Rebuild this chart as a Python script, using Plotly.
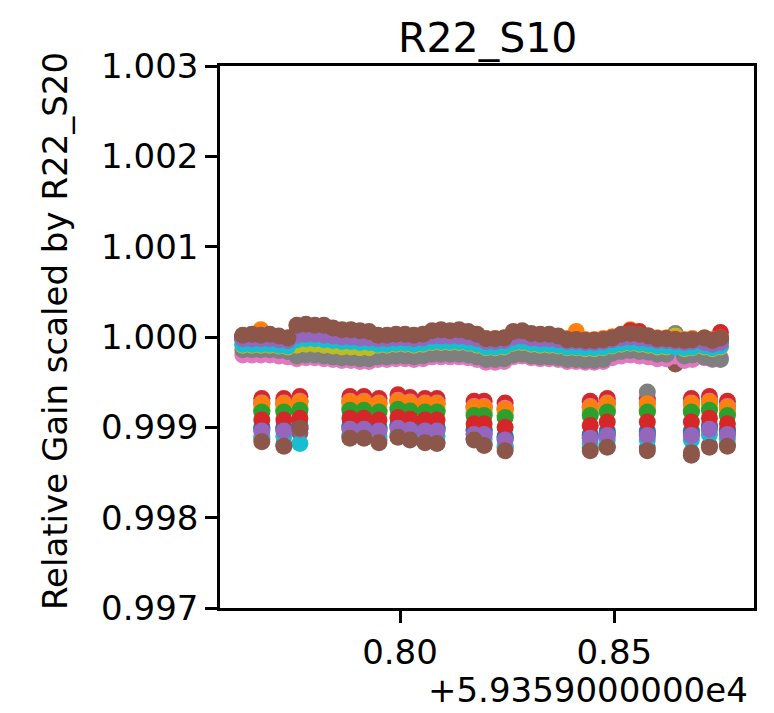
import plotly.graph_objects as go

# ---------------- data ----------------
UPPER_T = [
    59359.76332, 59359.76542, 59359.76752, 59359.76963, 59359.77173, 59359.77383,
    59359.77593, 59359.77804, 59359.78014, 59359.78224, 59359.78435, 59359.78645, 59359.78855, 59359.79065, 59359.79276,
    59359.79486, 59359.79696, 59359.79907, 59359.80117, 59359.80327, 59359.80537, 59359.80748, 59359.80958, 59359.81168,
    59359.81379, 59359.81589, 59359.81799, 59359.82009, 59359.82220, 59359.82430,
    59359.82640, 59359.82850, 59359.83061, 59359.83271, 59359.83481, 59359.83692, 59359.83902, 59359.84112, 59359.84322,
    59359.84533, 59359.84743,
    59359.84953, 59359.85164, 59359.85374, 59359.85584, 59359.85794, 59359.86005, 59359.86215, 59359.86425, 59359.86636,
    59359.86822,
    59359.87103, 59359.87290, 59359.87477,
]
LOWER_T = [
    59359.76776, 59359.77290, 59359.77664, 59359.78832, 59359.79159, 59359.79509, 59359.79953,
    59359.80234, 59359.80584, 59359.80864, 59359.81729, 59359.81963, 59359.82453, 59359.84439,
    59359.84836, 59359.85771, 59359.86799, 59359.87220, 59359.87640,
]

UP_00 = [0.99998, 0.99998, 0.99998, 0.99998, 0.99997, 0.99996,
         1.00002, 1.00003, 1.00003, 1.00002, 1.00001, 1.00000, 1.00000, 0.99999, 0.99999,
         0.99998, 0.99998, 0.99999, 0.99999, 0.99998, 0.99999, 1.00001, 1.00001, 1.00001, 1.00001, 1.00000, 0.99998, 0.99995, 0.99995, 0.99996,
         1.00000, 1.00001, 0.99999, 0.99998, 0.99998, 0.99997, 0.99995, 0.99995, 0.99994, 0.99994, 0.99995,
         0.99997, 0.99999, 1.00000, 0.99999, 0.99998, 0.99996, 0.99996, 0.99995, 0.99994, 0.99995,
         0.99996, 0.99994, 0.99996]
UP_01 = [1.00001, 1.00001, 1.00008, 1.00001, 1.00000, 0.99999,
         1.00005, 1.00006, 1.00006, 1.00005, 1.00004, 1.00003, 1.00003, 1.00002, 1.00002,
         1.00001, 1.00001, 1.00002, 1.00002, 1.00001, 1.00002, 1.00004, 1.00004, 1.00004, 1.00004, 1.00003, 1.00001, 0.99998, 0.99998, 0.99999,
         1.00003, 1.00004, 1.00002, 1.00001, 1.00001, 1.00000, 0.99998, 1.00006, 0.99997, 0.99997, 0.99998,
         1.00000, 1.00002, 1.00008, 1.00002, 1.00001, 0.99999, 0.99999, 0.99998, 0.99997, 0.99998,
         0.99999, 0.99997, 0.99999]
UP_02 = [0.99999, 0.99999, 0.99999, 0.99999, 0.99998, 0.99997,
         1.00003, 1.00004, 1.00004, 1.00003, 1.00002, 1.00001, 1.00001, 1.00000, 1.00000,
         0.99999, 0.99999, 1.00000, 1.00000, 0.99999, 1.00000, 1.00002, 1.00002, 1.00002, 1.00002, 1.00001, 0.99999, 0.99996, 0.99996, 0.99997,
         1.00001, 1.00002, 1.00000, 0.99999, 0.99999, 0.99998, 0.99996, 0.99996, 0.99995, 0.99995, 0.99996,
         0.99998, 1.00000, 1.00001, 1.00000, 0.99999, 0.99997, 0.99997, 0.99996, 0.99995, 0.99996,
         0.99997, 0.99995, 0.99997]
UP_03 = [0.99999, 0.99999, 0.99999, 0.99999, 0.99998, 0.99997,
         1.00003, 1.00004, 1.00004, 1.00003, 1.00002, 1.00001, 1.00001, 1.00000, 1.00000,
         0.99999, 0.99999, 1.00000, 1.00000, 0.99999, 1.00000, 1.00002, 1.00002, 1.00002, 1.00002, 1.00001, 0.99999, 0.99996, 0.99996, 0.99997,
         1.00001, 1.00002, 1.00000, 0.99999, 0.99999, 0.99998, 0.99996, 0.99996, 0.99995, 0.99995, 0.99996,
         0.99998, 1.00000, 1.00007, 1.00006, 0.99999, 0.99997, 0.99997, 0.99996, 0.99995, 0.99996,
         0.99997, 0.99995, 1.00005]
UP_04 = [0.99998, 0.99998, 0.99998, 0.99998, 0.99997, 0.99996,
         1.00002, 1.00003, 1.00003, 1.00002, 1.00001, 1.00000, 1.00000, 0.99999, 0.99999,
         0.99998, 0.99998, 0.99999, 0.99999, 0.99998, 0.99999, 1.00001, 1.00001, 1.00001, 1.00001, 1.00000, 0.99998, 0.99995, 0.99995, 0.99996,
         1.00000, 1.00001, 0.99999, 0.99998, 0.99998, 0.99997, 0.99995, 0.99995, 0.99994, 0.99994, 0.99995,
         0.99997, 0.99999, 1.00000, 0.99999, 0.99998, 0.99996, 0.99996, 0.99995, 0.99994, 0.99995,
         0.99996, 0.99994, 0.99996]
UP_05 = [1.00000, 1.00000, 1.00000, 1.00000, 0.99999, 0.99998,
         1.00004, 1.00005, 1.00005, 1.00004, 1.00003, 1.00002, 1.00002, 1.00001, 1.00001,
         1.00000, 1.00000, 1.00001, 1.00001, 1.00000, 1.00001, 1.00003, 1.00003, 1.00003, 1.00003, 1.00002, 1.00000, 0.99997, 0.99997, 0.99998,
         1.00002, 1.00003, 1.00001, 1.00000, 1.00000, 0.99999, 0.99997, 0.99997, 0.99996, 0.99996, 0.99997,
         0.99999, 1.00001, 1.00002, 1.00001, 1.00000, 0.99998, 0.99998, 0.99970, 0.99996, 0.99997,
         0.99998, 0.99996, 0.99998]
UP_06 = [0.99980, 0.99980, 0.99980, 0.99980, 0.99979, 0.99978,
         0.99976, 0.99977, 0.99977, 0.99976, 0.99975, 0.99974, 0.99974, 0.99973, 0.99973,
         0.99975, 0.99975, 0.99976, 0.99976, 0.99975, 0.99976, 0.99978, 0.99978, 0.99978, 0.99978, 0.99977, 0.99975, 0.99972, 0.99972, 0.99973,
         0.99978, 0.99979, 0.99977, 0.99976, 0.99976, 0.99975, 0.99973, 0.99973, 0.99972, 0.99972, 0.99973,
         0.99977, 0.99979, 0.99980, 0.99979, 0.99978, 0.99976, 0.99976, 0.99979, 0.99974, 0.99975,
         0.99977, 0.99975, 0.99977]
UP_07 = [0.99986, 0.99986, 0.99986, 0.99986, 0.99985, 0.99984,
         0.99979, 0.99980, 0.99980, 0.99979, 0.99978, 0.99977, 0.99977, 0.99976, 0.99976,
         0.99978, 0.99978, 0.99979, 0.99979, 0.99978, 0.99979, 0.99981, 0.99981, 0.99981, 0.99981, 0.99980, 0.99978, 0.99975, 0.99975, 0.99976,
         0.99980, 0.99981, 0.99979, 0.99978, 0.99978, 0.99977, 0.99975, 0.99975, 0.99974, 0.99974, 0.99975,
         0.99982, 0.99984, 0.99985, 0.99984, 0.99983, 0.99981, 0.99981, 1.00004, 0.99979, 0.99980,
         0.99978, 0.99976, 0.99975]
UP_08 = [0.99991, 0.99991, 0.99991, 0.99991, 0.99990, 0.99989,
         0.99991, 0.99992, 0.99992, 0.99991, 0.99990, 0.99989, 0.99989, 0.99988, 0.99988,
         0.99991, 0.99991, 0.99992, 0.99992, 0.99991, 0.99992, 0.99994, 0.99994, 0.99994, 0.99994, 0.99993, 0.99991, 0.99988, 0.99988, 0.99989,
         0.99993, 0.99994, 0.99992, 0.99991, 0.99991, 0.99990, 0.99988, 0.99988, 0.99987, 0.99987, 0.99988,
         0.99990, 0.99992, 0.99993, 0.99992, 0.99991, 0.99989, 0.99989, 1.00001, 0.99987, 0.99988,
         0.99989, 0.99987, 0.99989]
UP_09 = [0.99992, 0.99992, 0.99992, 0.99992, 0.99991, 0.99990,
         0.99997, 0.99998, 0.99998, 0.99997, 0.99996, 0.99995, 0.99995, 0.99994, 0.99994,
         0.99992, 0.99992, 0.99993, 0.99993, 0.99992, 0.99993, 0.99995, 0.99995, 0.99995, 0.99995, 0.99994, 0.99992, 0.99989, 0.99989, 0.99990,
         0.99994, 0.99995, 0.99993, 0.99992, 0.99992, 0.99991, 0.99989, 0.99989, 0.99988, 0.99988, 0.99989,
         0.99991, 0.99993, 0.99994, 0.99993, 0.99992, 0.99990, 0.99990, 0.99989, 0.99988, 0.99989,
         0.99990, 0.99988, 0.99990]
UP_10 = [0.99999, 0.99999, 0.99999, 0.99999, 0.99998, 0.99997,
         1.00003, 1.00004, 1.00004, 1.00003, 1.00002, 1.00001, 1.00001, 1.00000, 1.00000,
         0.99999, 0.99999, 1.00000, 1.00000, 0.99999, 1.00000, 1.00002, 1.00002, 1.00002, 1.00002, 1.00001, 0.99999, 0.99996, 0.99996, 0.99997,
         1.00001, 1.00002, 1.00000, 0.99999, 0.99999, 0.99998, 0.99996, 0.99996, 0.99995, 0.99995, 0.99996,
         0.99998, 1.00000, 1.00001, 1.00000, 0.99999, 0.99997, 0.99997, 0.99996, 0.99995, 0.99996,
         0.99997, 0.99995, 0.99997]
UP_11 = [1.00001, 1.00001, 1.00001, 1.00001, 1.00000, 0.99999,
         1.00005, 1.00006, 1.00006, 1.00005, 1.00004, 1.00003, 1.00003, 1.00002, 1.00002,
         1.00001, 1.00001, 1.00002, 1.00002, 1.00001, 1.00002, 1.00004, 1.00004, 1.00004, 1.00004, 1.00003, 1.00001, 0.99998, 0.99998, 0.99999,
         1.00003, 1.00004, 1.00002, 1.00001, 1.00001, 1.00000, 0.99998, 0.99998, 0.99997, 0.99997, 0.99998,
         1.00000, 1.00002, 1.00003, 1.00002, 1.00001, 0.99999, 0.99999, 0.99998, 0.99997, 0.99998,
         0.99999, 0.99997, 0.99999]
UP_12 = [0.99999, 0.99999, 0.99999, 0.99999, 0.99998, 0.99997,
         1.00003, 1.00004, 1.00004, 1.00003, 1.00002, 1.00001, 1.00001, 1.00000, 1.00000,
         0.99999, 0.99999, 1.00000, 1.00000, 0.99999, 1.00000, 1.00002, 1.00002, 1.00002, 1.00002, 1.00001, 0.99999, 0.99996, 0.99996, 0.99997,
         1.00001, 1.00002, 1.00000, 0.99999, 0.99999, 0.99998, 0.99996, 0.99996, 0.99995, 0.99995, 0.99996,
         0.99998, 1.00000, 1.00001, 1.00000, 0.99999, 0.99997, 0.99997, 0.99996, 0.99995, 0.99996,
         0.99997, 0.99995, 0.99997]
UP_13 = [1.00000, 1.00000, 1.00000, 1.00000, 0.99999, 0.99998,
         1.00004, 1.00005, 1.00005, 1.00004, 1.00003, 1.00002, 1.00002, 1.00001, 1.00001,
         1.00000, 1.00000, 1.00001, 1.00001, 1.00000, 1.00001, 1.00003, 1.00003, 1.00003, 1.00003, 1.00002, 1.00000, 0.99997, 0.99997, 0.99998,
         1.00002, 1.00003, 1.00001, 1.00000, 1.00000, 0.99999, 0.99997, 0.99997, 0.99996, 0.99996, 0.99997,
         0.99999, 1.00001, 1.00002, 1.00001, 1.00000, 0.99998, 0.99998, 0.99997, 0.99996, 0.99997,
         0.99998, 0.99996, 0.99998]
UP_14 = [0.99998, 0.99998, 0.99998, 0.99998, 0.99997, 0.99996,
         1.00002, 1.00003, 1.00003, 1.00002, 1.00001, 1.00000, 1.00000, 0.99999, 0.99999,
         0.99998, 0.99998, 0.99999, 0.99999, 0.99998, 0.99999, 1.00001, 1.00001, 1.00001, 1.00001, 1.00000, 0.99998, 0.99995, 0.99995, 0.99996,
         1.00000, 1.00001, 0.99999, 0.99998, 0.99998, 0.99997, 0.99995, 0.99995, 0.99994, 0.99994, 0.99995,
         0.99997, 0.99999, 1.00000, 0.99999, 0.99998, 0.99996, 0.99996, 0.99995, 0.99994, 0.99995,
         0.99994, 0.99992, 0.99994]
UP_15 = [1.00002, 1.00003, 1.00002, 1.00003, 1.00001, 0.99999,
         1.00013, 1.00014, 1.00013, 1.00013, 1.00010, 1.00008, 1.00008, 1.00007, 1.00006,
         1.00002, 1.00002, 1.00003, 1.00003, 1.00002, 1.00003, 1.00007, 1.00008, 1.00007, 1.00008, 1.00006, 1.00003, 0.99998, 0.99998, 0.99999,
         1.00006, 1.00007, 1.00004, 1.00003, 1.00003, 1.00001, 0.99997, 0.99997, 0.99996, 0.99996, 0.99997,
         0.99999, 1.00003, 1.00004, 1.00003, 1.00001, 0.99998, 0.99998, 0.99997, 0.99996, 0.99997,
         0.99999, 0.99996, 0.99999]

LO_00 = [0.99900, 0.99900, 0.99902, 0.99902, 0.99902, 0.99900, 0.99903, 0.99901, 0.99900, 0.99900,
         0.99897, 0.99897, 0.99890, 0.99892, 0.99896, 0.99896, 0.99896, 0.99902, 0.99897]
LO_01 = [0.99928, 0.99928, 0.99930, 0.99930, 0.99930, 0.99928, 0.99931, 0.99929, 0.99928, 0.99928,
         0.99924, 0.99924, 0.99922, 0.99924, 0.99928, 0.99928, 0.99928, 0.99930, 0.99924]
LO_02 = [0.99919, 0.99919, 0.99921, 0.99921, 0.99921, 0.99919, 0.99922, 0.99920, 0.99919, 0.99919,
         0.99916, 0.99916, 0.99913, 0.99916, 0.99919, 0.99919, 0.99919, 0.99921, 0.99916]
LO_03 = [0.99932, 0.99932, 0.99934, 0.99934, 0.99934, 0.99932, 0.99936, 0.99933, 0.99932, 0.99932,
         0.99929, 0.99929, 0.99927, 0.99929, 0.99932, 0.99932, 0.99932, 0.99934, 0.99929]
LO_04 = [0.99897, 0.99897, 0.99899, 0.99899, 0.99899, 0.99897, 0.99900, 0.99898, 0.99897, 0.99897,
         0.99893, 0.99893, 0.99887, 0.99889, 0.99892, 0.99892, 0.99892, 0.99899, 0.99893]
LO_05 = [0.99887, 0.99881, 0.99894, 0.99890, 0.99889, 0.99886, 0.99890, 0.99887, 0.99886, 0.99884,
         0.99887, 0.99882, 0.99877, 0.99877, 0.99879, 0.99877, 0.99869, 0.99880, 0.99881]
LO_06 = [0.99927, 0.99927, 0.99929, 0.99929, 0.99929, 0.99927, 0.99930, 0.99928, 0.99927, 0.99927,
         0.99923, 0.99923, 0.99921, 0.99923, 0.99927, 0.99927, 0.99927, 0.99929, 0.99923]
LO_07 = [0.99926, 0.99926, 0.99928, 0.99928, 0.99928, 0.99926, 0.99929, 0.99927, 0.99926, 0.99926,
         0.99922, 0.99922, 0.99920, 0.99922, 0.99926, 0.99939, 0.99926, 0.99928, 0.99922]
LO_08 = [0.99922, 0.99922, 0.99924, 0.99924, 0.99924, 0.99922, 0.99926, 0.99923, 0.99922, 0.99922,
         0.99919, 0.99919, 0.99917, 0.99919, 0.99922, 0.99922, 0.99922, 0.99924, 0.99919]
LO_09 = [0.99890, 0.99890, 0.99882, 0.99892, 0.99892, 0.99890, 0.99893, 0.99891, 0.99890, 0.99890,
         0.99887, 0.99887, 0.99880, 0.99882, 0.99886, 0.99886, 0.99886, 0.99892, 0.99887]
LO_10 = [0.99899, 0.99899, 0.99901, 0.99901, 0.99901, 0.99899, 0.99902, 0.99900, 0.99899, 0.99899,
         0.99896, 0.99896, 0.99889, 0.99891, 0.99894, 0.99894, 0.99894, 0.99901, 0.99896]
LO_11 = [0.99926, 0.99926, 0.99928, 0.99928, 0.99928, 0.99926, 0.99929, 0.99927, 0.99926, 0.99926,
         0.99922, 0.99922, 0.99920, 0.99922, 0.99926, 0.99926, 0.99926, 0.99928, 0.99922]
LO_12 = [0.99917, 0.99917, 0.99919, 0.99919, 0.99919, 0.99917, 0.99920, 0.99918, 0.99917, 0.99917,
         0.99913, 0.99913, 0.99911, 0.99913, 0.99917, 0.99917, 0.99917, 0.99919, 0.99913]
LO_13 = [0.99908, 0.99908, 0.99910, 0.99910, 0.99910, 0.99908, 0.99911, 0.99909, 0.99908, 0.99908,
         0.99904, 0.99904, 0.99900, 0.99902, 0.99906, 0.99906, 0.99906, 0.99910, 0.99904]
LO_14 = [0.99896, 0.99896, 0.99898, 0.99898, 0.99898, 0.99896, 0.99899, 0.99897, 0.99896, 0.99896,
         0.99892, 0.99892, 0.99886, 0.99888, 0.99891, 0.99891, 0.99891, 0.99898, 0.99892]
LO_15 = [0.99884, 0.99879, 0.99899, 0.99888, 0.99888, 0.99883, 0.99889, 0.99886, 0.99883, 0.99882,
         0.99886, 0.99880, 0.99874, 0.99874, 0.99878, 0.99874, 0.99872, 0.99878, 0.99879]

Y_TICKS = [0.997, 0.998, 0.999, 1.000, 1.001, 1.002, 1.003]
X_TICKS = [59359.80, 59359.85]
X_TICK_TEXT = ["0.80", "0.85"]
X_OFFSET_TEXT = "+5.9359000000e4"
TITLE = "R22_S10"
Y_LABEL = "Relative Gain scaled by R22_S20"

UPPER = [UP_00, UP_01, UP_02, UP_03, UP_04, UP_05, UP_06, UP_07,
         UP_08, UP_09, UP_10, UP_11, UP_12, UP_13, UP_14, UP_15]
LOWER = [LO_00, LO_01, LO_02, LO_03, LO_04, LO_05, LO_06, LO_07,
         LO_08, LO_09, LO_10, LO_11, LO_12, LO_13, LO_14, LO_15]

COLORS = ['#1f77b4', '#ff7f0e', '#2ca02c', '#d62728', '#9467bd',
          '#8c564b', '#e377c2', '#7f7f7f', '#bcbd22', '#17becf']

FONT = "DejaVu Sans, Liberation Sans, sans-serif"

fig = go.Figure()
for i, (up, lo) in enumerate(zip(UPPER, LOWER)):
    fig.add_trace(go.Scatter(
        x=UPPER_T + LOWER_T,
        y=up + lo,
        mode="markers",
        marker=dict(size=17, color=COLORS[i % 10], line=dict(width=0)),
        showlegend=False,
        hoverinfo="skip",
    ))

W, H = 774, 713
L, R, T, B = 220, 20, 66, 105

fig.update_layout(
    width=W, height=H,
    margin=dict(l=L, r=R, t=T, b=B, pad=0),
    paper_bgcolor="white", plot_bgcolor="white",
    font=dict(family=FONT, size=34, color="black"),
    showlegend=False,
)
fig.update_xaxes(
    range=[59359.758, 59359.8826],
    tickvals=X_TICKS, ticktext=X_TICK_TEXT,
    ticks="outside", ticklen=12, tickwidth=2.5, tickcolor="black",
    showline=True, linewidth=2.5, linecolor="black", mirror=True,
    showgrid=False, zeroline=False,
    tickfont=dict(family=FONT, size=34, color="black"),
)
fig.update_yaxes(
    range=[0.997, 1.003],
    tickvals=Y_TICKS, tickformat=".3f",
    ticks="outside", ticklen=12, tickwidth=2.5, tickcolor="black",
    showline=True, linewidth=2.5, linecolor="black", mirror=True,
    showgrid=False, zeroline=False,
    tickfont=dict(family=FONT, size=34, color="black"),
)

fig.add_annotation(text=TITLE, xref="paper", yref="paper", x=0.5, y=1.052,
                   xanchor="center", yanchor="middle", showarrow=False,
                   font=dict(family=FONT, size=41, color="black"))
fig.add_annotation(text=Y_LABEL, xref="paper", yref="paper", x=-0.309, y=0.511,
                   xanchor="center", yanchor="middle", textangle=-90, showarrow=False,
                   font=dict(family=FONT, size=34, color="black"))
fig.add_annotation(text=X_OFFSET_TEXT, xref="paper", yref="paper", x=0.9925, y=-0.151,
                   xanchor="right", yanchor="middle", showarrow=False,
                   font=dict(family=FONT, size=34, color="black"))

fig.write_html("out.html")
